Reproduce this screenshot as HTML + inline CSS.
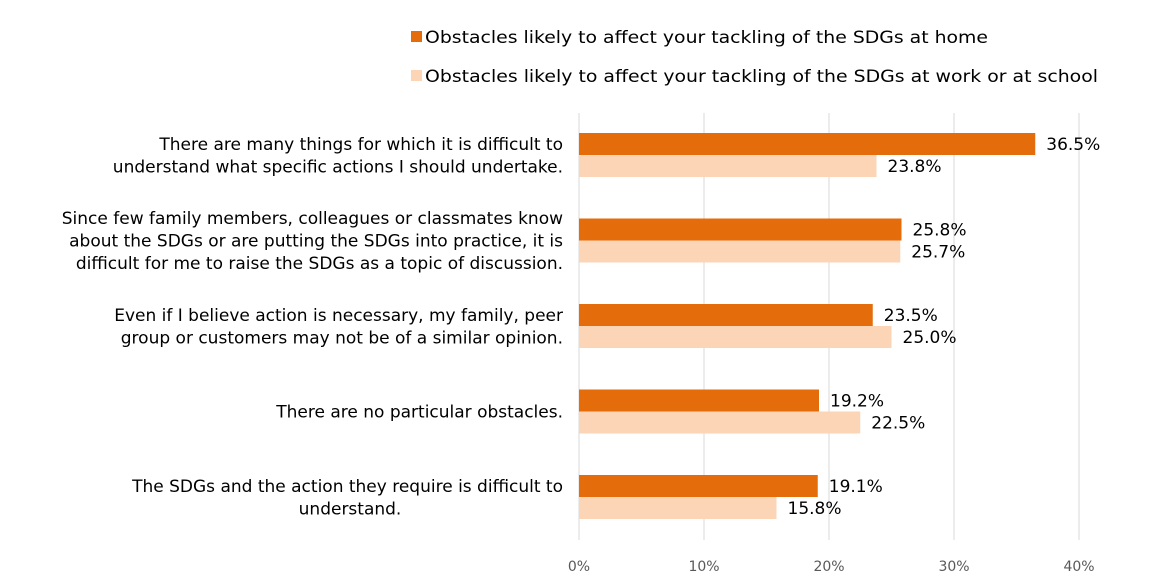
<!DOCTYPE html>
<html><head><meta charset="utf-8"><style>
html,body{margin:0;padding:0;background:#fff}
svg{display:block;font-family:"DejaVu Sans","Liberation Sans",sans-serif}
</style></head><body>
<svg id="chart" width="1154" height="583">
<g>
<rect x="411" y="31" width="11" height="11" fill="#E46C0A"/>
<text x="425" y="43" font-size="17" fill="#000" textLength="563" lengthAdjust="spacingAndGlyphs">Obstacles likely to affect your tackling of the SDGs at home</text>
<rect x="411" y="70" width="11" height="11" fill="#FBD5B5"/>
<text x="425" y="82" font-size="17" fill="#000" textLength="673" lengthAdjust="spacingAndGlyphs">Obstacles likely to affect your tackling of the SDGs at work or at school</text>
</g>
<g id="grid"></g><g id="bars"></g><g id="labels"></g>
</svg>
<script>
const categories=[
 ["There are many things for which it is difficult to","understand what specific actions I should undertake."],
 ["Since few family members, colleagues or classmates know","about the SDGs or are putting the SDGs into practice, it is","difficult for me to raise the SDGs as a topic of discussion."],
 ["Even if I believe action is necessary, my family, peer","group or customers may not be of a similar opinion."],
 ["There are no particular obstacles."],
 ["The SDGs and the action they require is difficult to","understand."]
];
const homeValues=[36.5,25.8,23.5,19.2,19.1];
const workValues=[23.8,25.7,25.0,22.5,15.8];
const ticks=[0,10,20,30,40];
const tickLabels=["0%","10%","20%","30%","40%"];

const NS="http://www.w3.org/2000/svg";
const x=v=>579+v*12.5;
const gy=i=>155+i*85.5;
function mk(tag,attrs,parent,txt){const e=document.createElementNS(NS,tag);for(const k in attrs)e.setAttribute(k,attrs[k]);if(txt!==undefined)e.textContent=txt;parent.appendChild(e);return e;}
const grid=document.getElementById('grid'),bars=document.getElementById('bars'),labels=document.getElementById('labels');
ticks.forEach((t,i)=>{
 const l=mk('line',{x1:x(t),x2:x(t),y1:113,y2:540,stroke:'#D9D9D9','stroke-width':1},grid);
 
 
 const tx=mk('text',{x:x(t),y:571,'font-size':14,fill:'#595959','text-anchor':'middle'},grid,tickLabels[i]);
 
 
});
categories.forEach((lines,i)=>{
 const c=gy(i);
 const r1=mk('rect',{x:x(0),y:c-22,width:x(homeValues[i])-x(0),height:22,fill:'#E46C0A'},bars);
 
 
 const r2=mk('rect',{x:x(0),y:c,width:x(workValues[i])-x(0),height:22,fill:'#FBD5B5'},bars);
 
 
 const v1=mk('text',{x:x(homeValues[i])+11,y:c-5,'font-size':17,fill:'#000'},bars,homeValues[i].toFixed(1)+'%');
 
 
 const v2=mk('text',{x:x(workValues[i])+11,y:c+17,'font-size':17,fill:'#000'},bars,workValues[i].toFixed(1)+'%');
 
 
 const n=lines.length,lh=22.5;
 lines.forEach((ln,j)=>{
  const yy=c+(j-(n-1)/2)*lh+6;
  const single=(n>1&&ln.length<15);
  const t=mk('text',{x:single?350:563,y:yy,'font-size':17,fill:'#000','text-anchor':single?'middle':'end'},labels,ln);
  
  
 });
});
</script>
</body></html>
